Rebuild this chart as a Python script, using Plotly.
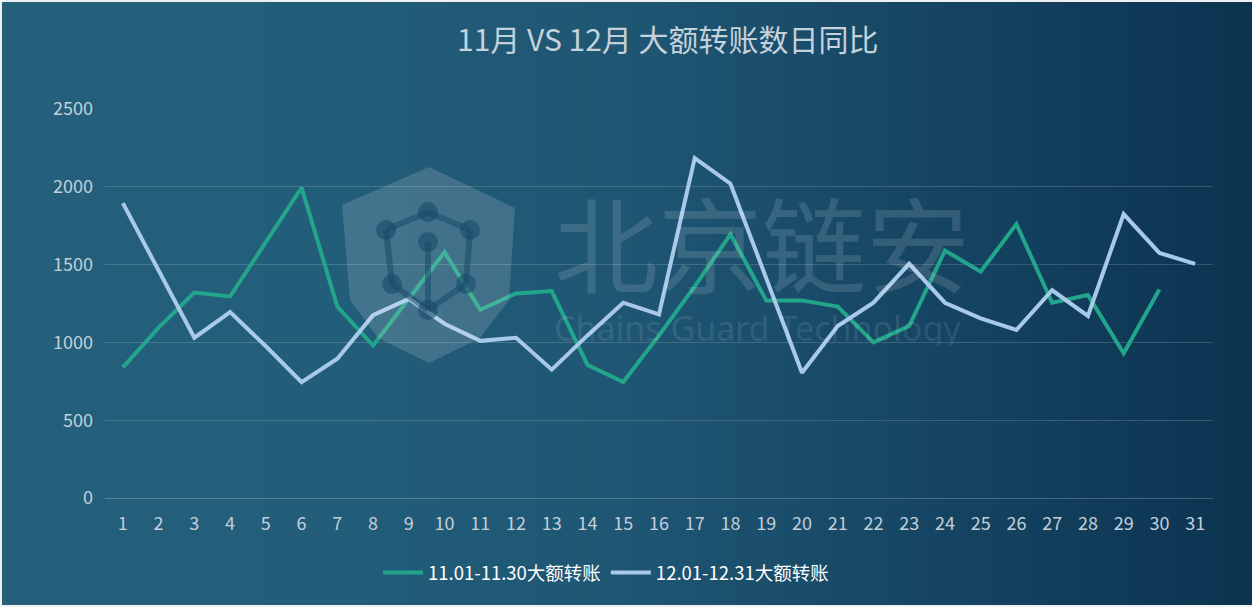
import base64, struct, zlib
import plotly.graph_objects as go

# ---------------- data ----------------
days = list(range(1, 32))
day_labels = [str(d) for d in days]
nov_name = "11.01-11.30大额转账"
dec_name = "12.01-12.31大额转账"
nov_values = [840, 1095, 1320, 1295, 1645, 1995, 1230, 980, 1280, 1580,
              1210, 1315, 1330, 855, 745, 1045, 1360, 1695, 1270, 1270,
              1230, 1000, 1105, 1590, 1455, 1760, 1255, 1305, 930, 1340]
dec_values = [1895, 1462, 1030, 1195, 975, 745, 895, 1175, 1280, 1120,
              1010, 1030, 825, 1045, 1255, 1180, 2185, 2020, 1410, 805,
              1105, 1255, 1505, 1255, 1155, 1080, 1335, 1170, 1825, 1575, 1505]
y_ticks = [0, 500, 1000, 1500, 2000, 2500]
title_text = "11月 VS 12月 大额转账数日同比"

# ---------------- geometry ----------------
W, H = 1252, 607
ML, MR, MT, MB = 105, 39, 109, 109
PW, PH = W - ML - MR, H - MT - MB

def px(x):
    return (x - ML) / PW

def py(y):
    return (H - MB - y) / PH

# ---------------- gradient background (PNG) ----------------
stops = [(0, (36, 96, 124)), (350, (34, 93, 121)), (650, (30, 85, 114)),
         (950, (21, 68, 98)), (1252, (11, 51, 80))]

def col_at(x):
    for (x0, c0), (x1, c1) in zip(stops[:-1], stops[1:]):
        if x0 <= x <= x1:
            t = (x - x0) / (x1 - x0)
            return tuple(int(round(a + (b - a) * t)) for a, b in zip(c0, c1))
    return stops[-1][1]

gw = 626
row = b"\x00" + b"".join(bytes(col_at(i * W / (gw - 1))) for i in range(gw))
raw = row * 2

def chunk(tag, data):
    c = struct.pack(">I", len(data)) + tag + data
    return c + struct.pack(">I", zlib.crc32(tag + data) & 0xffffffff)

png = (b"\x89PNG\r\n\x1a\n" + chunk(b"IHDR", struct.pack(">IIBBBBB", gw, 2, 8, 2, 0, 0, 0))
       + chunk(b"IDAT", zlib.compress(raw)) + chunk(b"IEND", b""))
bg_uri = "data:image/png;base64," + base64.b64encode(png).decode()

font_cjk = "Microsoft YaHei, Noto Sans CJK SC, sans-serif"

fig = go.Figure()
fig.add_trace(go.Scatter(x=days[:len(nov_values)], y=nov_values, name=nov_name, mode="lines",
                         line=dict(color="#22a58a", width=4)))
fig.add_trace(go.Scatter(x=days, y=dec_values, name=dec_name, mode="lines",
                         line=dict(color="#a9c9ea", width=4)))

# watermark shield
def path(points):
    return "M " + " L ".join(f"{px(a):.5f},{py(b):.5f}" for a, b in points) + " Z"

shield = [(429, 167), (515, 208), (509, 300), (480, 338), (429, 363),
          (378, 338), (350, 300), (342, 205)]
shapes = [dict(type="path", path=path(shield), xref="paper", yref="paper",
               fillcolor="rgba(255,255,255,0.15)", line=dict(width=0), layer="above")]
nodes = [(428, 212), (386, 230), (470, 230), (428, 242), (392, 284), (428, 310), (466, 284)]
edges = [(0, 1), (0, 2), (1, 4), (4, 5), (5, 6), (2, 6), (3, 5)]
for a, b in edges:
    (x0, y0), (x1, y1) = nodes[a], nodes[b]
    shapes.append(dict(type="line", xref="paper", yref="paper", x0=px(x0), y0=py(y0),
                       x1=px(x1), y1=py(y1), line=dict(color="rgba(25,75,105,0.55)", width=6),
                       layer="above"))
for (cx, cy) in nodes:
    r = 10
    shapes.append(dict(type="circle", xref="paper", yref="paper", x0=px(cx - r), x1=px(cx + r),
                       y0=py(cy + r), y1=py(cy - r), fillcolor="rgba(25,75,105,0.6)",
                       line=dict(width=0), layer="above"))

annotations = [
    dict(text=title_text, x=px(668), y=py(38), xref="paper", yref="paper", showarrow=False,
         xanchor="center", yanchor="middle", font=dict(family=font_cjk, size=30, color="#c5d1db")),
    dict(text="北京链安", x=px(762), y=py(240), xref="paper", yref="paper", showarrow=False,
         xanchor="center", yanchor="middle", height=114, valign="middle",
         font=dict(family=font_cjk, size=104, color="rgba(255,255,255,0.13)")),
    dict(text="Chains Guard Technology", x=px(757), y=py(328), xref="paper", yref="paper",
         showarrow=False, xanchor="center", yanchor="middle", height=36, valign="middle",
         font=dict(family="Noto Sans, sans-serif", size=34, color="rgba(255,255,255,0.11)")),
]

fig.update_layout(
    width=W, height=H,
    margin=dict(l=ML, r=MR, t=MT, b=MB, pad=0),
    paper_bgcolor="#eef0f2",
    plot_bgcolor="rgba(0,0,0,0)",
    images=[dict(source=bg_uri, xref="paper", yref="paper", x=px(2), y=py(2),
                 sizex=(W - 2) / PW, sizey=(H - 4) / PH, xanchor="left", yanchor="top",
                 sizing="stretch", layer="below")],
    shapes=shapes,
    annotations=annotations,
    showlegend=True,
    legend=dict(orientation="h", x=px(378), y=py(573), xanchor="left", yanchor="middle",
                font=dict(family=font_cjk, size=18.5, color="#ffffff"),
                bgcolor="rgba(0,0,0,0)", itemwidth=40, tracegroupgap=0),
    font=dict(family=font_cjk),
)
fig.update_xaxes(range=[0.5, 31.5], tickmode="array", tickvals=days, ticktext=day_labels,
                 showgrid=False, zeroline=False, showline=True,
                 linecolor="rgba(255,255,255,0.22)", linewidth=1, ticks="",
                 tickfont=dict(family=font_cjk, size=18, color="#c3cfd9"),
                 ticklabelstandoff=9, fixedrange=True)
fig.update_yaxes(range=[0, 2500], tickmode="array", tickvals=y_ticks,
                 ticktext=[str(v) for v in y_ticks],
                 showgrid=True, gridcolor="rgba(255,255,255,0.16)", gridwidth=1,
                 zeroline=False, showline=False, ticks="",
                 tickfont=dict(family=font_cjk, size=18, color="#c3cfd9"),
                 ticklabelstandoff=11, fixedrange=True)

fig.write_html("out.html", config={"displayModeBar": False},
               post_script="document.body.style.margin='0';document.body.style.overflow='hidden';")
